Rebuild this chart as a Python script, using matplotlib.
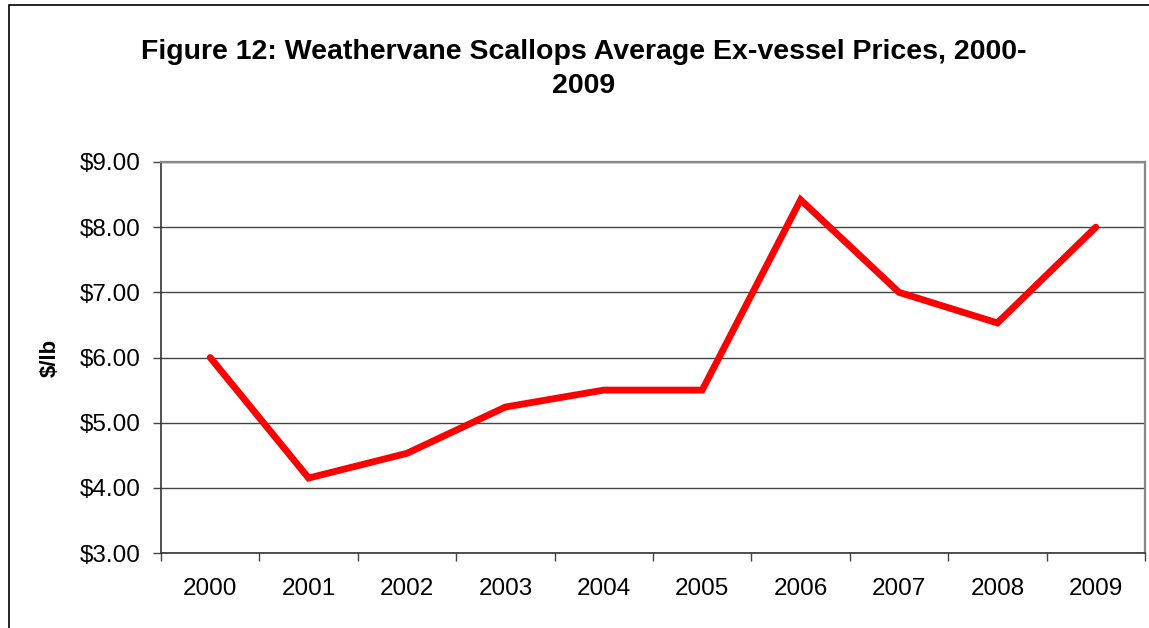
import matplotlib
matplotlib.use("Agg")
import matplotlib.pyplot as plt
from matplotlib.patches import Rectangle
from matplotlib.ticker import FixedLocator, FuncFormatter

years = ["2000", "2001", "2002", "2003", "2004", "2005", "2006", "2007", "2008", "2009"]
prices = [6.00, 4.15, 4.53, 5.24, 5.50, 5.50, 8.42, 7.00, 6.53, 8.00]
title = "Figure 12: Weathervane Scallops Average Ex-vessel Prices, 2000-\n2009"
ylabel = "$/lb"

plt.rcParams['font.family'] = ['Liberation Sans', 'DejaVu Sans']

W, H = 1149, 628
fig = plt.figure(figsize=(W / 100, H / 100), dpi=100)

# outer chart frame
fig.patches.append(Rectangle((8.5 / W, -0.05), 1.2, 1 - 5.5 / H + 0.05,
                             transform=fig.transFigure, fill=False,
                             edgecolor='black', linewidth=1.2))

ax = fig.add_axes([161 / W, 1 - 553 / H, (1145 - 161) / W, (553 - 162) / H])

x = list(range(len(years)))
ax.plot(x, prices, color='#ff0000', linewidth=4.9, solid_capstyle='round',
        solid_joinstyle='miter', zorder=3)

ax.set_xlim(-0.5, len(years) - 0.5)
ax.set_ylim(3, 9)
ax.set_yticks([3, 4, 5, 6, 7, 8, 9])
ax.yaxis.set_major_formatter(FuncFormatter(lambda v, p: f"${v:.2f}"))
ax.yaxis.grid(True, color='#444444', linewidth=1.0)
ax.set_axisbelow(True)

ax.set_xticks(x)
ax.set_xticklabels(years)
ax.xaxis.set_minor_locator(FixedLocator([i - 0.5 for i in range(len(years) + 1)]))
ax.tick_params(axis='x', which='major', length=0, pad=18, labelsize=17.5)
ax.tick_params(axis='x', which='minor', length=6, width=1, color='#444444', direction='out')
ax.tick_params(axis='y', which='major', length=6, width=1, color='#444444', pad=9, labelsize=17.5)

for s in ['left', 'bottom']:
    ax.spines[s].set_color('#333333')
    ax.spines[s].set_linewidth(1.2)
for s in ['top', 'right']:
    ax.spines[s].set_color('#888888')
    ax.spines[s].set_linewidth(1.6)

fig.text(50 / W, 1 - 358 / H, ylabel, rotation=90, ha='center', va='center',
         fontsize=16, fontweight='bold')

fig.text(584 / W, 1 - 69 / H, title, ha='center', va='center', fontsize=20.5,
         fontweight='bold', multialignment='center', linespacing=1.4)

fig.savefig("out.png", dpi=100)
